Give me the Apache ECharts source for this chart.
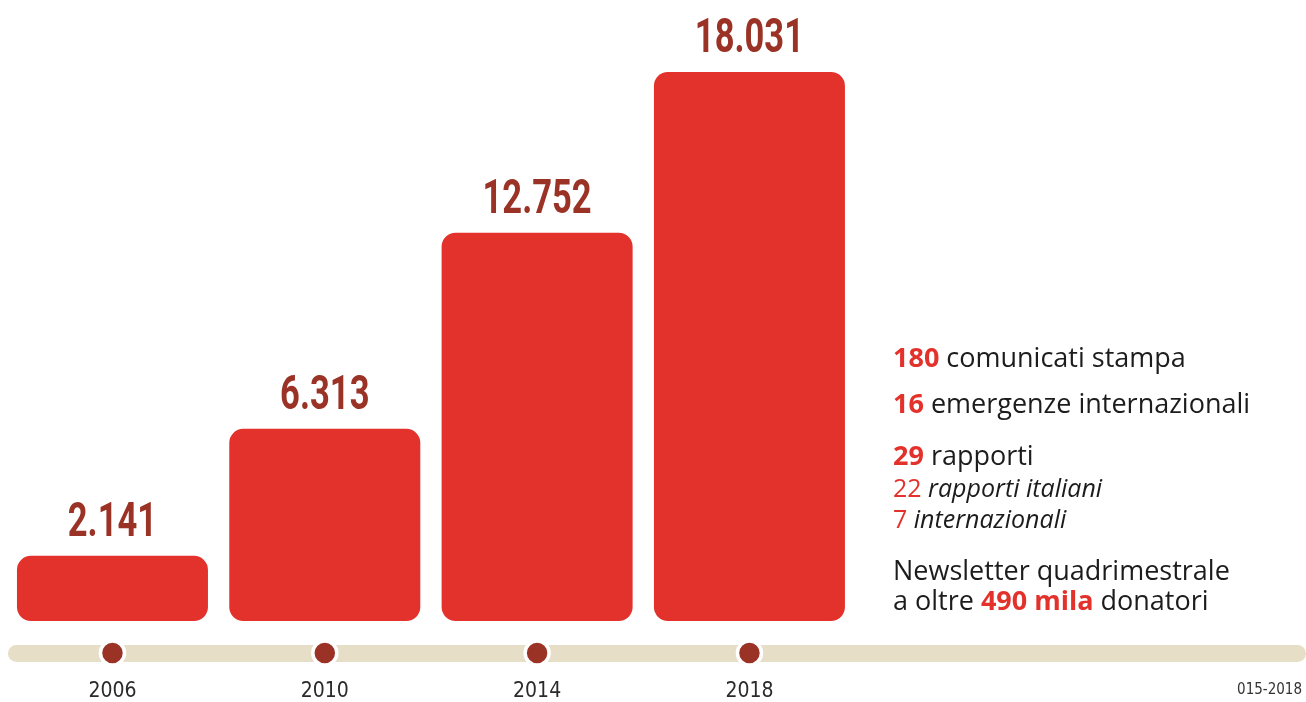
<!DOCTYPE html>
<html>
<head>
<meta charset="utf-8">
<script src="https://cdn.jsdelivr.net/npm/echarts@6/dist/echarts.min.js"></script>
<style>
  html, body { margin: 0; padding: 0; background: #ffffff; }
  #chart { width: 1306px; height: 702px; }
</style>
</head>
<body>
<div id="chart"></div>
<script>
// Donor counts by year
const years = ['2006', '2010', '2014', '2018'];
const donors = [2141, 6313, 12752, 18031];
const dotBase = [0, 0, 0, 0];

// Side notes: [number, text, style]
const notes = [
  ['180', 'comunicati stampa', 'main'],
  ['16', 'emergenze internazionali', 'main'],
  ['29', 'rapporti', 'main'],
  ['22', 'rapporti italiani', 'sub'],
  ['7', 'internazionali', 'sub']
];
const newsletter = ['Newsletter quadrimestrale', 'a oltre', '490 mila', 'donatori'];
const footnote = '015-2018';

const RED = '#e3322b';
const DARKRED = '#9a3226';
const BEIGE = '#e6dec6';
const INK = '#1c1c1c';
const NARROW = '"DejaVu Sans Condensed", sans-serif';
const BOLDNUM = 'Roboto, "DejaVu Sans Condensed", sans-serif';
const HUMAN = '"Open Sans", Lato, sans-serif';

const noteY = [359, 405, 457, 490, 521];
const graphics = [
  // timeline band
  { type: 'rect', z: 0, shape: { x: 8, y: 645, width: 1298, height: 17, r: 8.5 }, style: { fill: BEIGE } }
];
notes.forEach((n, i) => {
  const main = n[2] === 'main';
  const size = main ? 27 : 25;
  graphics.push({
    type: 'text', x: 893, y: noteY[i],
    style: {
      text: '{n|' + n[0] + '}{t| ' + n[1] + '}',
      verticalAlign: 'middle',
      rich: {
        n: { fontFamily: HUMAN, fontSize: size, fontWeight: main ? 'bold' : 'normal', fill: RED },
        t: { fontFamily: HUMAN, fontSize: size, fontStyle: main ? 'normal' : 'italic', fill: INK }
      }
    }
  });
});
graphics.push({
  type: 'text', x: 893, y: 572,
  style: { text: newsletter[0], fontFamily: HUMAN, fontSize: 27, fill: INK, verticalAlign: 'middle' }
});
graphics.push({
  type: 'text', x: 893, y: 602,
  style: {
    text: '{t|' + newsletter[1] + ' }{n|' + newsletter[2] + '}{t| ' + newsletter[3] + '}',
    verticalAlign: 'middle',
    rich: {
      t: { fontFamily: HUMAN, fontSize: 27, fill: INK },
      n: { fontFamily: HUMAN, fontSize: 27, fontWeight: 'bold', fill: RED }
    }
  }
});
graphics.push({
  type: 'text', x: 1302, y: 690,
  style: { text: footnote, fontFamily: NARROW, fontSize: 15, fill: '#333333', align: 'right', verticalAlign: 'middle' }
});

const chart = echarts.init(document.getElementById('chart'), null, { renderer: 'canvas' });
chart.setOption({
  animation: false,
  backgroundColor: '#ffffff',
  grid: [
    { left: 6.3, width: 849.3, top: 72, height: 549 },
    { left: 6.3, width: 849.3, top: 643, height: 21 }
  ],
  xAxis: [
    { type: 'category', gridIndex: 0, data: years, axisLine: { show: false }, axisTick: { show: false }, axisLabel: { show: false } },
    {
      type: 'category', gridIndex: 1, data: years,
      axisLine: { show: false }, axisTick: { show: false },
      axisLabel: { margin: 18, fontFamily: NARROW, fontSize: 21, color: '#2a2a2a' }
    }
  ],
  yAxis: [
    { type: 'value', gridIndex: 0, min: 0, max: 'dataMax', show: false, splitLine: { show: false } },
    { type: 'value', gridIndex: 1, min: -1, max: 1, show: false, splitLine: { show: false } }
  ],
  series: [
    {
      type: 'bar', xAxisIndex: 0, yAxisIndex: 0, data: donors, barWidth: 191,
      itemStyle: { color: RED, borderRadius: 14 }
    },
    {
      // condensed value labels above each bar
      type: 'custom', xAxisIndex: 0, yAxisIndex: 0, z: 4,
      data: donors.map((v, i) => [i, v]),
      renderItem: (params, api) => {
        const pt = api.coord([api.value(0), api.value(1)]);
        return {
          type: 'text', x: pt[0], y: pt[1] - 32, scaleX: 0.72, originX: 0,
          style: {
            text: api.value(1).toLocaleString('it-IT'),
            fontFamily: BOLDNUM, fontWeight: 'bold', fontSize: 48,
            fill: DARKRED, align: 'center', verticalAlign: 'middle'
          }
        };
      }
    },
    {
      type: 'scatter', xAxisIndex: 1, yAxisIndex: 1, data: dotBase, symbolSize: 24, z: 5,
      itemStyle: { color: DARKRED, borderColor: '#ffffff', borderWidth: 3.5, opacity: 1 }
    }
  ],
  graphic: graphics
});
</script>
</body>
</html>
